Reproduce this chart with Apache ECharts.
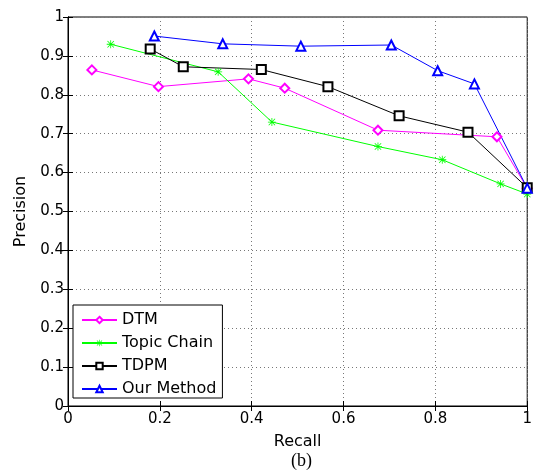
<!DOCTYPE html>
<html><head><meta charset="utf-8">
<script src="https://cdn.jsdelivr.net/npm/echarts@6/dist/echarts.min.js"></script>
<style>html,body{margin:0;padding:0;background:#fff}#c{width:535px;height:474px}</style>
</head><body><div id="c"></div>
<script>
const xTicks = [0, 0.2, 0.4, 0.6, 0.8, 1];
const yTicks = [0, 0.1, 0.2, 0.3, 0.4, 0.5, 0.6, 0.7, 0.8, 0.9, 1];
const dtmRecall = [0.052, 0.197, 0.393, 0.472, 0.675, 0.934, 1.0];
const dtmPrecision = [0.864, 0.821, 0.841, 0.817, 0.709, 0.692, 0.56];
const tcRecall = [0.093, 0.327, 0.444, 0.675, 0.815, 0.942, 1.0];
const tcPrecision = [0.930, 0.859, 0.730, 0.667, 0.633, 0.571, 0.545];
const tdpmRecall = [0.179, 0.251, 0.421, 0.566, 0.721, 0.871, 1.0];
const tdpmPrecision = [0.918, 0.872, 0.865, 0.821, 0.746, 0.704, 0.561];
const ourRecall = [0.188, 0.337, 0.507, 0.704, 0.805, 0.885, 1.0];
const ourPrecision = [0.951, 0.931, 0.925, 0.928, 0.862, 0.828, 0.56];
const seriesNames = ['DTM', 'Topic Chain', 'TDPM', 'Our Method'];
const seriesColors = ['#ff00ff', '#00ff00', '#000000', '#0000ff'];

const zip = (a, b) => a.map((v, i) => [v, b[i]]);
const font = '"DejaVu Sans", Arial, sans-serif';
// asterisk marker as a filled shape made of four thin bars
const star = 'path://M0,9L20,9L20,11L0,11Z M9,0L11,0L11,20L9,20Z M2.7,1.3L18.7,17.3L17.3,18.7L1.3,2.7Z M17.3,1.3L18.7,2.7L2.7,18.7L1.3,17.3Z';
const chart = echarts.init(document.getElementById('c'));
const gridLine = {show: true, lineStyle: {color: '#777', type: [1, 3], width: 1}};
const fmt = v => String(+v.toFixed(1));
const mk = (i, data, symbol, size, isStar) => ({
  name: seriesNames[i], type: 'line', data, symbol, symbolSize: size, showSymbol: true,
  lineStyle: {color: seriesColors[i], width: 1}, color: seriesColors[i],
  itemStyle: isStar ? {color: seriesColors[i], borderWidth: 0}
                    : {color: seriesColors[i], borderColor: seriesColors[i], borderWidth: 0.8},
  animation: false, z: 3
});
chart.setOption({
  animation: false,
  grid: {left: 68, right: 4, top: 17, bottom: 68, show: true, borderColor: '#000', borderWidth: 1},
  xAxis: [{
    type: 'value', min: 0, max: 1, interval: 0.2, position: 'bottom',
    axisLine: {onZero: false, lineStyle: {color: '#000', width: 1}},
    axisTick: {inside: true, length: 5, lineStyle: {color: '#000'}},
    axisLabel: {color: '#000', fontFamily: font, fontSize: 15, margin: 6, formatter: fmt},
    splitLine: gridLine,
    name: 'Recall', nameLocation: 'middle', nameGap: 28, nameTextStyle: {color: '#000', fontFamily: font, fontSize: 16}
  }, {
    type: 'value', min: 0, max: 1, interval: 0.2, position: 'top',
    axisLine: {show: true, lineStyle: {color: '#000'}},
    axisTick: {inside: true, length: 5, lineStyle: {color: '#000'}},
    axisLabel: {show: false}, splitLine: {show: false}
  }],
  yAxis: [{
    type: 'value', min: 0, max: 1, interval: 0.1, position: 'left',
    axisLine: {show: true, onZero: false, lineStyle: {color: '#000', width: 1}},
    axisTick: {show: true, inside: true, length: 5, lineStyle: {color: '#000'}},
    axisLabel: {color: '#000', fontFamily: font, fontSize: 15, margin: 4, formatter: fmt},
    splitLine: gridLine,
    name: 'Precision', nameLocation: 'middle', nameGap: 32, nameRotate: 90,
    nameTextStyle: {color: '#000', fontFamily: font, fontSize: 16}
  }, {
    type: 'value', min: 0, max: 1, interval: 0.1, position: 'right',
    axisLine: {show: true, lineStyle: {color: '#000'}},
    axisTick: {show: true, inside: true, length: 5, lineStyle: {color: '#000'}},
    axisLabel: {show: false}, splitLine: {show: false}
  }],
  legend: {
    orient: 'vertical', left: 73, top: 305,
    data: seriesNames,
    itemWidth: 35, itemHeight: 8, itemGap: 7,
    padding: [7, 6, 1, 8],
    backgroundColor: '#fff', borderColor: '#000', borderWidth: 1,
    textStyle: {color: '#000', fontFamily: font, fontSize: 16, lineHeight: 16}
  },
  series: [
    mk(0, zip(dtmRecall, dtmPrecision), 'emptyDiamond', 9),
    mk(1, zip(tcRecall, tcPrecision), star, 8, true),
    mk(2, zip(tdpmRecall, tdpmPrecision), 'emptyRect', 9),
    mk(3, zip(ourRecall, ourPrecision), 'emptyTriangle', 9)
  ],
  graphic: [{
    type: 'text', left: 291, top: 452,
    style: {text: '(b)', font: '18px "Liberation Serif", serif', fill: '#000'}
  }]
});
</script></body></html>
